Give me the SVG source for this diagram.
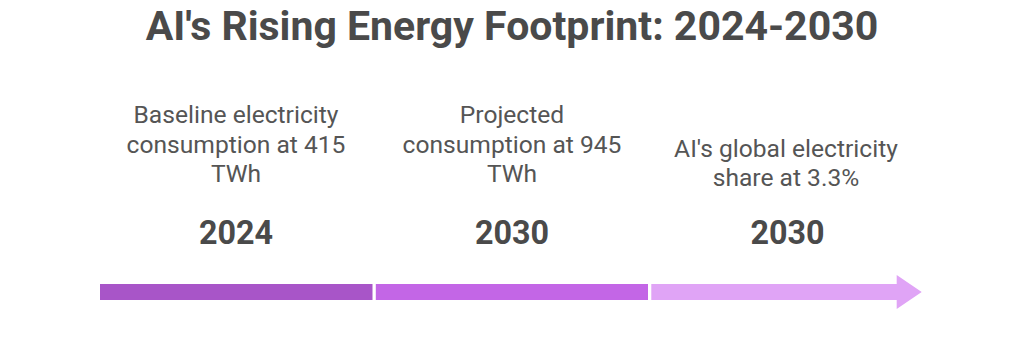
<svg xmlns="http://www.w3.org/2000/svg" width="1024" height="364" viewBox="0 0 1024 364">
<style>
.t{font-family:Roboto,"Liberation Sans",sans-serif;fill:#4a4a4a;text-anchor:middle}
.title{font-size:41px;font-weight:bold}
.body{font-size:24.6px;fill:#555555}
.year{font-size:32.3px;font-weight:bold}
</style>
<rect width="1024" height="364" fill="#ffffff"/>
<text class="t title" x="512" y="40">AI's Rising Energy Footprint: 2024-2030</text>
<g id="connectors">
<rect x="100" y="284" width="272.5" height="16" fill="#a855c8"/>
<rect x="375.8" y="284" width="272.2" height="16" fill="#c366e6"/>
<polygon points="651.3,284 896.7,284 896.7,275 921.7,292 896.7,309 896.7,300 651.3,300" fill="#e0a4f6"/>
</g>
<g id="node-2024">
<text class="t body" x="236" y="123">Baseline electricity</text>
<text class="t body" x="236" y="152.5">consumption at 415</text>
<text class="t body" x="236" y="182">TWh</text>
<text class="t year" x="236" y="244">2024</text>
</g>
<g id="node-2030a">
<text class="t body" x="512" y="123">Projected</text>
<text class="t body" x="512" y="152.5">consumption at 945</text>
<text class="t body" x="512" y="182">TWh</text>
<text class="t year" x="512" y="244">2030</text>
</g>
<g id="node-2030b">
<text class="t body" x="786" y="157">AI's global electricity</text>
<text class="t body" x="786" y="186">share at 3.3%</text>
<text class="t year" x="787.5" y="244">2030</text>
</g>
</svg>
